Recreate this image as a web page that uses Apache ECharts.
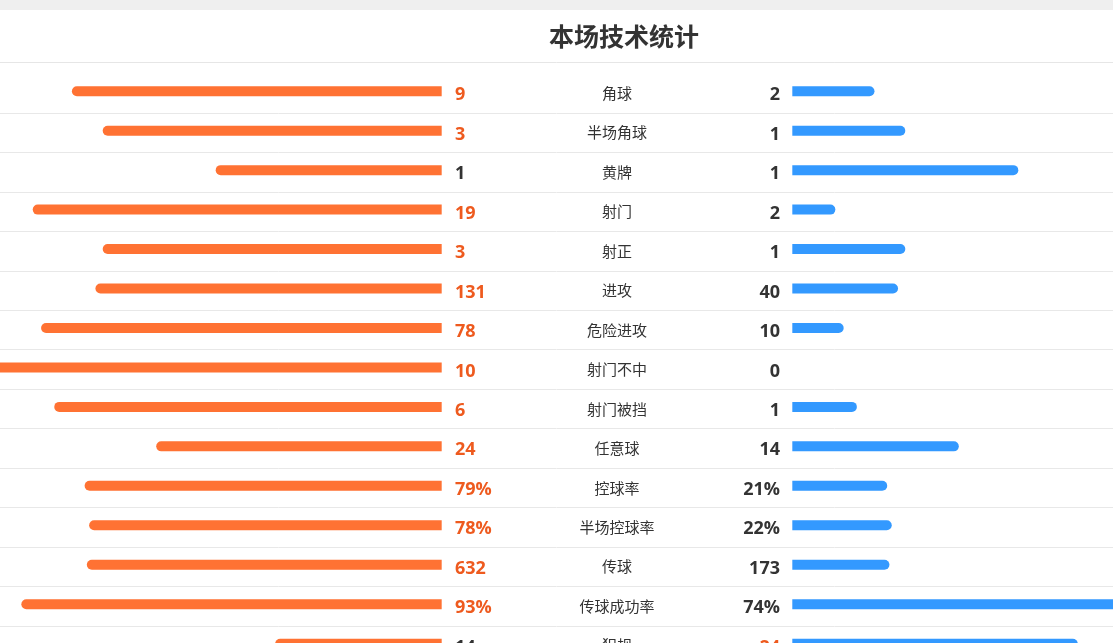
<!DOCTYPE html>
<html>
<head>
<meta charset="utf-8">
<script src="https://cdn.jsdelivr.net/npm/echarts@6/dist/echarts.min.js"></script>
<style>
  html, body { margin: 0; padding: 0; background: #fff; overflow: hidden; }
  #chart { width: 1113px; height: 643px; }
</style>
</head>
<body>
<div id="chart"></div>
<script>
// 比赛技术统计数据
const categories = ['角球', '半场角球', '黄牌', '射门', '射正', '进攻', '危险进攻', '射门不中', '射门被挡', '任意球', '控球率', '半场控球率', '传球', '传球成功率', '犯规'];
const homeValues = [9, 3, 1, 19, 3, 131, 78, 10, 6, 24, 79, 78, 632, 93, 14];
const awayValues = [2, 1, 1, 2, 1, 40, 10, 0, 1, 14, 21, 22, 173, 74, 24];
const percentRows = ['控球率', '半场控球率', '传球成功率'];

const ORANGE = '#ff7233';
const ORANGE_TEXT = '#ee5a1e';
const BLUE = '#3399ff';
const DARK = '#333333';

// 布局
const rowTop = 73.5;
const rowH = 39.46;
const gridH = rowH * categories.length;
const barSpan = 452;
const homeEnd = 441.7;
const awayStart = 792.3;

function isPct(i) {
  return percentRows.indexOf(categories[i]) >= 0;
}
function share(i, side) {
  const h = homeValues[i], a = awayValues[i];
  const v = side === 'home' ? h : a;
  if (isPct(i)) return v / 100;
  return h + a === 0 ? 0 : v / (h + a);
}
function fmt(v, i) {
  return v + (isPct(i) ? '%' : '');
}

const homeShare = categories.map((c, i) => share(i, 'home'));
const awayShare = categories.map((c, i) => share(i, 'away'));

const numStyle = { fontSize: 18, fontWeight: 'bold', fontFamily: 'Open Sans', padding: [4, 0, 0, 0] };

var myChart = echarts.init(document.getElementById('chart'));
myChart.setOption({
  animation: false,
  title: {
    text: '本场技术统计',
    left: 619,
    textAlign: 'center',
    top: 19,
    textStyle: { fontSize: 25, fontWeight: 'bold', color: DARK, fontFamily: 'Noto Sans CJK SC' }
  },
  graphic: [
    { type: 'rect', shape: { x: 0, y: 0, width: 1113, height: 10 }, style: { fill: '#efefef' } }
  ],
  grid: [
    { left: homeEnd - barSpan, width: barSpan, top: rowTop - 2, height: gridH, outerBoundsMode: 'none' },
    { left: awayStart, width: barSpan, top: rowTop - 2, height: gridH, outerBoundsMode: 'none' },
    { left: 0, width: 1113, top: rowTop, height: gridH, outerBoundsMode: 'none' },
    { left: 0, width: 1113, top: 61, height: 1, outerBoundsMode: 'none' }
  ],
  xAxis: [
    { gridIndex: 0, type: 'value', min: 0, max: 1, inverse: true, show: false },
    { gridIndex: 1, type: 'value', min: 0, max: 1, show: false },
    { gridIndex: 2, type: 'value', show: false },
    {
      gridIndex: 3, type: 'value', position: 'top',
      axisLine: { show: true, lineStyle: { color: '#e6e6e6', width: 1 } },
      axisTick: { show: false }, axisLabel: { show: false }, splitLine: { show: false }
    }
  ],
  yAxis: [
    { gridIndex: 0, type: 'category', data: categories, inverse: true, show: false },
    { gridIndex: 1, type: 'category', data: categories, inverse: true, show: false },
    {
      gridIndex: 2, type: 'category', data: categories, inverse: true, position: 'left',
      axisLine: { show: false }, axisTick: { show: false },
      splitLine: {
        show: true,
        interval: function (idx) { return idx > 0; },
        lineStyle: { color: '#e8e8e8', width: 1 }
      },
      axisLabel: {
        align: 'left',
        margin: -455,
        formatter: function (value, i) {
          const h = homeValues[i], a = awayValues[i];
          const hs = h > a ? 'hw' : 'hn';
          const as = a > h ? 'aw' : 'an';
          return '{' + hs + '|' + fmt(h, i) + '}{c|' + value + '}{' + as + '|' + fmt(a, i) + '}';
        },
        rich: {
          hw: Object.assign({ width: 122, align: 'left', color: ORANGE_TEXT }, numStyle),
          hn: Object.assign({ width: 122, align: 'left', color: DARK }, numStyle),
          c: { width: 80, align: 'center', fontSize: 15, color: DARK, fontFamily: 'Noto Sans CJK SC' },
          aw: Object.assign({ width: 123, align: 'right', color: ORANGE_TEXT }, numStyle),
          an: Object.assign({ width: 123, align: 'right', color: DARK }, numStyle)
        }
      }
    },
    { gridIndex: 3, type: 'value', show: false }
  ],
  series: [
    {
      name: 'home', type: 'bar', xAxisIndex: 0, yAxisIndex: 0,
      data: homeShare, barWidth: 10,
      itemStyle: { color: ORANGE, borderRadius: [5, 0, 0, 5] }
    },
    {
      name: 'away', type: 'bar', xAxisIndex: 1, yAxisIndex: 1,
      data: awayShare, barWidth: 10,
      itemStyle: { color: BLUE, borderRadius: [0, 5, 5, 0] }
    }
  ]
});
</script>
</body>
</html>
